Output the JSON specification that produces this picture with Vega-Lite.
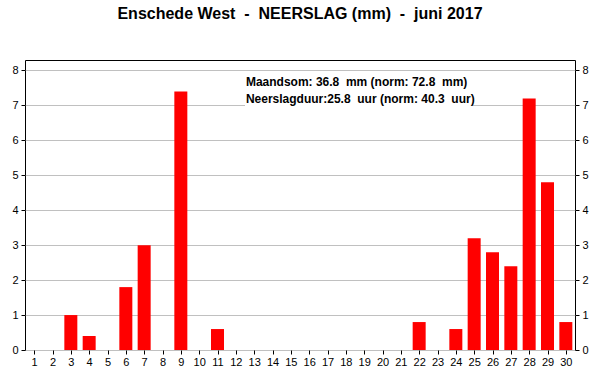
{
  "$schema": "https://vega.github.io/schema/vega-lite/v6.json",
  "width": 550,
  "height": 290,
  "autosize": "none",
  "padding": {"left": 25, "top": 60, "right": 25, "bottom": 40},
  "background": "white",
  "title": {
    "text": "Enschede West \u00a0- \u00a0NEERSLAG (mm) \u00a0- \u00a0juni 2017",
    "font": "Liberation Sans",
    "fontSize": 16,
    "fontWeight": "bold",
    "color": "black",
    "anchor": "middle",
    "offset": 38
  },
  "config": {
    "view": {"stroke": "black", "strokeWidth": 1},
    "axis": {
      "labelFont": "Liberation Sans",
      "labelFontSize": 11,
      "labelColor": "black",
      "tickColor": "black",
      "tickSize": 4,
      "domain": false,
      "title": null
    },
    "axisX": {"labelOverlap": false, "labelFlush": false, "tickCount": 40},
    "scale": {"continuousPadding": 0}
  },
  "datasets": {
    "rain": [
      {"day": 1, "mm": 0}, {"day": 2, "mm": 0}, {"day": 3, "mm": 1.0}, {"day": 4, "mm": 0.4},
      {"day": 5, "mm": 0}, {"day": 6, "mm": 1.8}, {"day": 7, "mm": 3.0}, {"day": 8, "mm": 0},
      {"day": 9, "mm": 7.4}, {"day": 10, "mm": 0}, {"day": 11, "mm": 0.6}, {"day": 12, "mm": 0},
      {"day": 13, "mm": 0}, {"day": 14, "mm": 0}, {"day": 15, "mm": 0}, {"day": 16, "mm": 0},
      {"day": 17, "mm": 0}, {"day": 18, "mm": 0}, {"day": 19, "mm": 0}, {"day": 20, "mm": 0},
      {"day": 21, "mm": 0}, {"day": 22, "mm": 0.8}, {"day": 23, "mm": 0}, {"day": 24, "mm": 0.6},
      {"day": 25, "mm": 3.2}, {"day": 26, "mm": 2.8}, {"day": 27, "mm": 2.4}, {"day": 28, "mm": 7.2},
      {"day": 29, "mm": 4.8}, {"day": 30, "mm": 0.8}
    ]
  },
  "layer": [
    {
      "data": {"name": "rain"},
      "mark": {"type": "bar", "color": "#ff0000", "size": 13},
      "encoding": {
        "x": {
          "field": "day", "type": "quantitative",
          "scale": {"domain": [0.5, 30.5], "nice": false, "zero": false, "padding": 0},
          "axis": {"values": [1,2,3,4,5,6,7,8,9,10,11,12,13,14,15,16,17,18,19,20,21,22,23,24,25,26,27,28,29,30], "tickCount": 40, "format": "d", "grid": false, "labelPadding": 2, "labelOverlap": false, "labelFlush": false}
        },
        "y": {
          "field": "mm", "type": "quantitative",
          "scale": {"domain": [0, 8.3], "nice": false, "padding": 0},
          "axis": {"orient": "left", "values": [0,1,2,3,4,5,6,7,8], "grid": true, "gridColor": "#c0c0c0", "gridWidth": 1, "labelPadding": 3}
        }
      }
    },
    {
      "data": {"values": [{"x1": 12.5, "x2": 24.9, "y1": 6.9, "y2": 7.85}]},
      "mark": {"type": "rect", "color": "white"},
      "encoding": {
        "x": {"field": "x1", "type": "quantitative"},
        "x2": {"field": "x2"},
        "y": {"field": "y1", "type": "quantitative", "axis": null},
        "y2": {"field": "y2"}
      }
    },
    {
      "data": {"values": [
        {"x": 12.55, "y": 7.66, "label": "Maandsom: 36.8 \u00a0mm (norm: 72.8 \u00a0mm)"},
        {"x": 12.55, "y": 7.17, "label": "Neerslagduur:25.8 \u00a0uur (norm: 40.3 \u00a0uur)"}
      ]},
      "mark": {"type": "text", "align": "left", "baseline": "middle", "font": "Liberation Sans", "fontSize": 12, "fontWeight": "bold", "color": "black"},
      "encoding": {
        "x": {"field": "x", "type": "quantitative"},
        "y": {"field": "y", "type": "quantitative", "axis": null},
        "text": {"field": "label"}
      }
    },
    {
      "data": {"name": "rain"},
      "mark": {"type": "bar", "opacity": 0, "size": 13},
      "encoding": {
        "x": {"field": "day", "type": "quantitative"},
        "y": {
          "field": "mm", "type": "quantitative",
          "axis": {"orient": "right", "values": [0,1,2,3,4,5,6,7,8], "grid": false, "labelPadding": 3}
        }
      }
    }
  ],
  "resolve": {"axis": {"y": "independent"}}
}
